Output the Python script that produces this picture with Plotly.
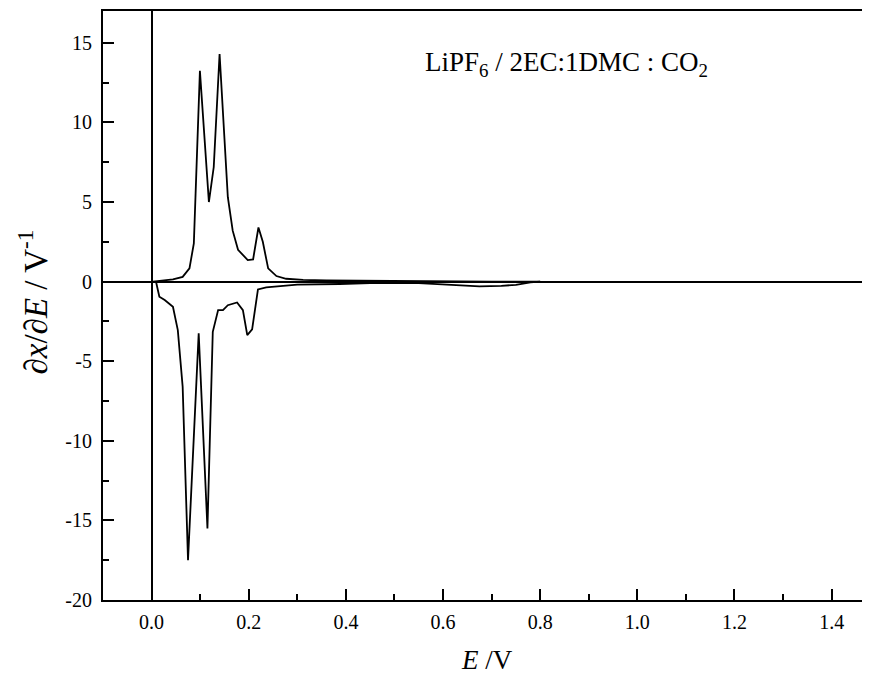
import plotly.graph_objects as go

# Charge (positive) branch
charge_E = [0.003, 0.044, 0.064, 0.078, 0.087, 0.0995, 0.118, 0.128, 0.140, 0.157, 0.167,
            0.178, 0.198, 0.209, 0.220, 0.229, 0.240, 0.257, 0.277, 0.312, 0.36, 0.42,
            0.50, 0.60, 0.70, 0.80]
charge_dxdE = [0.0, 0.14, 0.30, 0.83, 2.4, 13.24, 5.0, 7.2, 14.3, 5.3, 3.2,
               2.0, 1.35, 1.4, 3.4, 2.5, 0.83, 0.35, 0.18, 0.11, 0.07, 0.05,
               0.03, 0.01, 0.0, 0.0]

# Discharge (negative) branch
discharge_E = [0.0096, 0.016, 0.027, 0.044, 0.054, 0.064, 0.075, 0.097, 0.115, 0.126,
               0.137, 0.147, 0.157, 0.176, 0.188, 0.197, 0.207, 0.219, 0.236, 0.284,
               0.300, 0.387, 0.45, 0.55, 0.62, 0.675, 0.72, 0.75, 0.78, 0.80]
discharge_dxdE = [-0.07, -0.95, -1.16, -1.58, -3.05, -6.6, -17.5, -3.25, -15.5, -3.15,
                  -1.79, -1.79, -1.48, -1.31, -1.79, -3.36, -3.0, -0.49, -0.36, -0.26,
                  -0.19, -0.15, -0.1, -0.1, -0.2, -0.3, -0.27, -0.2, -0.05, 0.0]

x_tickvals = [0.0, 0.2, 0.4, 0.6, 0.8, 1.0, 1.2, 1.4]
x_ticktext = ["0.0", "0.2", "0.4", "0.6", "0.8", "1.0", "1.2", "1.4"]
y_tickvals = [-20, -15, -10, -5, 0, 5, 10, 15]
y_ticktext = ["-20", "-15", "-10", "-5", "0", "5", "10", "15"]

label_text = "LiPF<sub>6</sub> / 2EC:1DMC : CO<sub>2</sub>"
x_title = "<i>E</i> /V"
y_title = "∂<i>x</i>/∂<i>E</i> / V<sup>-1</sup>"

font_family = "Liberation Serif, Times New Roman, serif"

fig = go.Figure()
fig.add_trace(go.Scatter(x=charge_E, y=charge_dxdE, mode="lines",
                         line=dict(color="black", width=1.8), showlegend=False))
fig.add_trace(go.Scatter(x=discharge_E, y=discharge_dxdE, mode="lines",
                         line=dict(color="black", width=1.8), showlegend=False))

fig.add_annotation(x=0.854, y=13.7, xref="x", yref="y", text=label_text,
                   showarrow=False, xanchor="center", yanchor="middle",
                   font=dict(family=font_family, size=27, color="black"))
fig.add_annotation(x=0.5, y=0, xref="paper", yref="paper", text=x_title,
                   showarrow=False, xanchor="center", yanchor="middle", yshift=-60,
                   font=dict(family=font_family, size=27, color="black"))
fig.add_annotation(x=0, y=0.505, xref="paper", yref="paper", text=y_title,
                   showarrow=False, xanchor="center", yanchor="middle", xshift=-70,
                   textangle=-90,
                   font=dict(family=font_family, size=33, color="black"))

fig.update_layout(
    width=862, height=667,
    margin=dict(l=95, r=0, t=3, b=75),
    paper_bgcolor="white", plot_bgcolor="white",
    font=dict(family=font_family, size=20, color="black"),
    xaxis=dict(range=[-0.1, 1.479], tickmode="array", tickvals=x_tickvals,
               ticktext=x_ticktext, ticks="inside", ticklen=11, tickwidth=1.5,
               tickcolor="black", showline=True, linecolor="black", linewidth=2,
               mirror=True, showgrid=False, zeroline=True, zerolinecolor="black",
               zerolinewidth=1.8, ticklabelstandoff=3,
               minor=dict(dtick=0.1, tick0=0, ticks="inside", ticklen=6, tickwidth=1.5,
                          tickcolor="black", showgrid=False)),
    yaxis=dict(range=[-20, 17], tickmode="array", tickvals=y_tickvals,
               ticktext=y_ticktext, ticks="inside", ticklen=11, tickwidth=1.5,
               tickcolor="black", showline=True, linecolor="black", linewidth=2,
               mirror=False, showgrid=False, zeroline=True, zerolinecolor="black",
               zerolinewidth=1.8, ticklabelstandoff=5,
               minor=dict(dtick=2.5, tick0=0, ticks="inside", ticklen=6, tickwidth=1.5,
                          tickcolor="black", showgrid=False)),
)

fig.write_html("out.html")
